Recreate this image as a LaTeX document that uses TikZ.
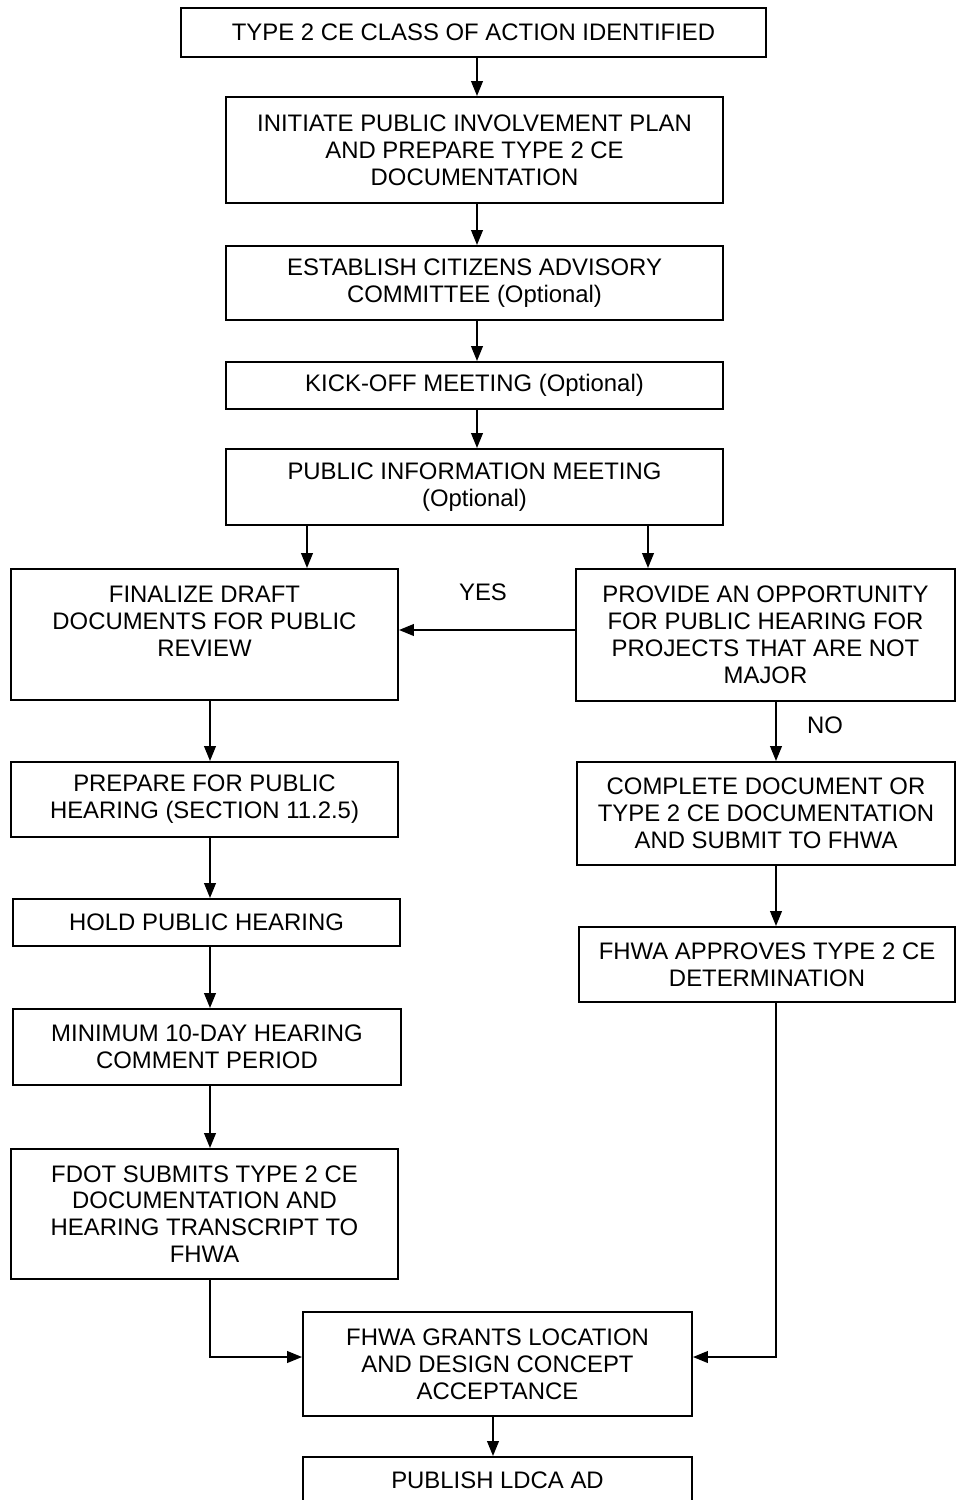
\documentclass[tikz,border=0pt]{standalone}
\usepackage{fontspec}
\setmainfont{Liberation Sans}
\usetikzlibrary{arrows.meta}

\begin{document}
\begin{tikzpicture}[x=0.02cm,y=-0.02cm,
    stepbox/.style={draw,line width=1.1pt,align=center,inner sep=0pt,
        font=\fontsize{13.6}{15.3}\selectfont},
    arr/.style={line width=1.1pt,-{Triangle[length=8.5pt,width=6.6pt]}},
    lbl/.style={font=\fontsize{13.6}{15.3}\selectfont}]
    \useasboundingbox (0,0) rectangle (956,1500);
    \node[stepbox,minimum width=11.7cm,minimum height=0.98cm] (ident) at (473.5,32.5) {TYPE 2 CE CLASS OF ACTION IDENTIFIED};
    \node[stepbox,minimum width=9.94cm,minimum height=2.12cm] (init) at (474.5,150) {INITIATE PUBLIC INVOLVEMENT PLAN\\AND PREPARE TYPE 2 CE\\DOCUMENTATION};
    \node[stepbox,minimum width=9.94cm,minimum height=1.48cm] (cac) at (474.5,283) {ESTABLISH CITIZENS ADVISORY\\COMMITTEE (Optional)};
    \node[stepbox,minimum width=9.94cm,minimum height=0.94cm] (kick) at (474.5,385.5) {KICK-OFF MEETING (Optional)};
    \node[stepbox,minimum width=9.94cm,minimum height=1.52cm] (pim) at (474.5,487) {PUBLIC INFORMATION MEETING\\(Optional)};
    \node[stepbox,minimum width=7.74cm,minimum height=2.62cm] (final) at (204.5,634.5) {FINALIZE DRAFT\\DOCUMENTS FOR PUBLIC\\REVIEW\\\mbox{}};
    \node[stepbox,minimum width=7.58cm,minimum height=2.64cm] (opport) at (765.5,635) {PROVIDE AN OPPORTUNITY\\FOR PUBLIC HEARING FOR\\PROJECTS THAT ARE NOT\\MAJOR};
    \node[stepbox,minimum width=7.74cm,minimum height=1.5cm] (prep) at (204.5,799.5) {PREPARE FOR PUBLIC\\HEARING (SECTION 11.2.5)};
    \node[stepbox,minimum width=7.74cm,minimum height=0.94cm] (hold) at (206.5,922.5) {HOLD PUBLIC HEARING};
    \node[stepbox,minimum width=7.76cm,minimum height=1.52cm] (period) at (207,1047) {MINIMUM 10-DAY HEARING\\COMMENT PERIOD};
    \node[stepbox,minimum width=7.74cm,minimum height=2.6cm] (submit) at (204.5,1214) {FDOT SUBMITS TYPE 2 CE\\DOCUMENTATION AND\\HEARING TRANSCRIPT TO\\FHWA};
    \node[stepbox,minimum width=7.56cm,minimum height=2.06cm] (complete) at (766,813.5) {COMPLETE DOCUMENT OR\\TYPE 2 CE DOCUMENTATION\\AND SUBMIT TO FHWA};
    \node[stepbox,minimum width=7.52cm,minimum height=1.5cm] (approve) at (767,964.5) {FHWA APPROVES TYPE 2 CE\\DETERMINATION};
    \node[stepbox,minimum width=7.78cm,minimum height=2.08cm] (grant) at (497.5,1364) {FHWA GRANTS LOCATION\\AND DESIGN CONCEPT\\ACCEPTANCE};
    \node[stepbox,minimum width=7.78cm,minimum height=0.94cm] (publish) at (497.5,1480.5) {PUBLISH LDCA AD};
    \node[lbl] (yes) at (483,592) {YES};
    \node[lbl] (no) at (825,725) {NO};
    \draw[arr] (ident.south -| 477,0) -- (init.north -| 477,0);
    \draw[arr] (init.south -| 477,0) -- (cac.north -| 477,0);
    \draw[arr] (cac.south -| 477,0) -- (kick.north -| 477,0);
    \draw[arr] (kick.south -| 477,0) -- (pim.north -| 477,0);
    \draw[arr] (pim.south -| 307,0) -- (final.north -| 307,0);
    \draw[arr] (pim.south -| 648,0) -- (opport.north -| 648,0);
    \draw[arr] (opport.west |- 0,630) -- (final.east |- 0,630);
    \draw[arr] (final.south -| 210,0) -- (prep.north -| 210,0);
    \draw[arr] (prep.south -| 210,0) -- (hold.north -| 210,0);
    \draw[arr] (hold.south -| 210,0) -- (period.north -| 210,0);
    \draw[arr] (period.south -| 210,0) -- (submit.north -| 210,0);
    \draw[arr] (submit.south -| 210,0) |- (grant.west |- 0,1357);
    \draw[arr] (opport.south -| 776,0) -- (complete.north -| 776,0);
    \draw[arr] (complete.south -| 776,0) -- (approve.north -| 776,0);
    \draw[arr] (approve.south -| 776,0) |- (grant.east |- 0,1357);
    \draw[arr] (grant.south -| 493,0) -- (publish.north -| 493,0);
\end{tikzpicture}
\end{document}
